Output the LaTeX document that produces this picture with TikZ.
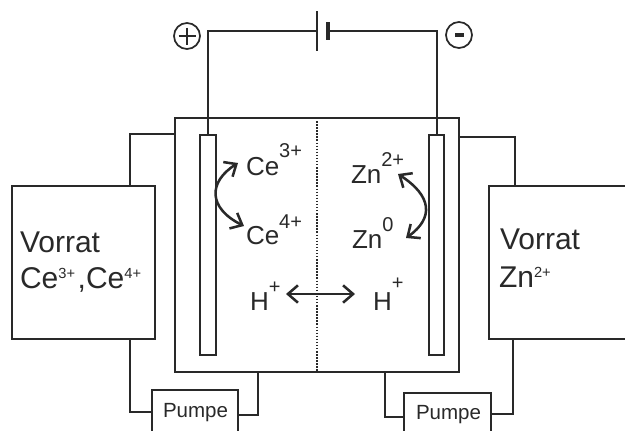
\documentclass[tikz,border=0pt]{standalone}
\usepackage{fontspec}
\setmainfont{Liberation Sans}
\usetikzlibrary{arrows.meta}
\definecolor{ink}{gray}{0.16}
\newcommand{\supr}[3]{\raisebox{#1}{\fontsize{#2}{#2}\selectfont #3}}
\tikzset{
  line/.style={draw=ink,line width=1.3pt},
  boxn/.style={draw=ink,line width=1.4pt,inner sep=0pt,outer sep=0pt,anchor=north west},
  lbl/.style={text=ink,font=\fontsize{19.5}{24}\selectfont,inner sep=0pt,outer sep=0pt,anchor=base west},
  vor/.style={text=ink,font=\fontsize{22.5}{27}\selectfont,inner sep=0pt,outer sep=0pt,anchor=base west},
  pmp/.style={text=ink,font=\fontsize{15.4}{18}\selectfont,inner sep=0pt,outer sep=0pt,anchor=base west},
  cur/.style={draw=ink,line width=1.9pt,{Straight Barb[length=7.5pt,width=13pt,line width=1.9pt]}-{Straight Barb[length=7.5pt,width=13pt,line width=1.9pt]}},
  sign/.style={draw=ink,line width=1.3pt,circle,minimum size=19.5pt,inner sep=0pt,outer sep=0pt},
}
\begin{document}
\begin{tikzpicture}[x=0.75pt,y=-0.75pt]
\useasboundingbox (0,0) rectangle (625,430);
\clip (0,0) rectangle (625,430);
% boxes
\node[boxn,minimum width=213pt,minimum height=190.5pt] (cell) at (175,118) {};
\node[boxn,minimum width=12pt,minimum height=165pt] (elL) at (200,135) {};
\node[boxn,minimum width=11.25pt,minimum height=165pt] (elR) at (429,135) {};
\node[boxn,minimum width=107.25pt,minimum height=114.75pt] (vl) at (12,186) {};
\node[boxn,minimum width=113.25pt,minimum height=114.75pt] (vr) at (489,186) {};
\node[boxn,minimum width=64.5pt,minimum height=45pt] (pl) at (152,390) {};
\node[boxn,minimum width=65.25pt,minimum height=45pt] (pr) at (404,393) {};
% ports
\coordinate (batL) at (317,31);
\coordinate (batR) at (328,31);
\coordinate (elLt) at (208,135);
\coordinate (elRt) at (437,135);
\coordinate (cellA) at (175,134);
\coordinate (vlA) at (130,186);
\coordinate (cellB) at (459,137);
\coordinate (vrB) at (515,186);
\coordinate (vlC) at (130,339);
\coordinate (plC) at (152,412);
\coordinate (plD) at (238,415);
\coordinate (cellD) at (258,372);
\coordinate (cellE) at (385,372);
\coordinate (prE) at (404,417);
\coordinate (prF) at (491,414);
\coordinate (vrF) at (513,339);
\coordinate (memT) at (317,118);
\coordinate (memB) at (317,372);
% wires and battery
\draw[line] (elLt) |- (batL);
\draw[line] (elRt) |- (batR);
\draw[line] (317,11) -- (317,51);
\draw[draw=ink,line width=3.6pt] (328,22) -- (328,40);
% pipes
\draw[line] (cellA) -| (vlA);
\draw[line] (cellB) -| (vrB);
\draw[line] (vlC) |- (plC);
\draw[line] (plD) -| (cellD);
\draw[line] (cellE) |- (prE);
\draw[line] (prF) -| (vrF);
% signs
\node[sign] (plus) at (187,36) {};
\draw[draw=ink,line width=2pt] (178.5,36) -- (195.5,36) (187,27.5) -- (187,44.5);
\node[sign] (minus) at (459,35) {};
\draw[draw=ink,line width=2.4pt] (455,35) -- (464,35);
% membrane
\draw[draw=ink,line width=1.5pt,dash pattern=on 1.1pt off 1.2pt] (memT) -- (memB);
% labels
\node[vor] (vlt1) at (20,252) {Vorrat};
\node[vor] (vlt2) at (20,288) {Ce\supr{7.5pt}{11}{3+}\kern2pt,Ce\supr{7.5pt}{11}{4+}};
\node[vor] (vrt1) at (500,249) {Vorrat};
\node[vor] (vrt2) at (499,287) {Zn\supr{7.5pt}{11}{2+}};
\node[lbl] (ce3) at (246,175) {Ce\supr{13.5pt}{15}{3+}};
\node[lbl] (ce4) at (246,244) {Ce\supr{12pt}{15}{4+}};
\node[lbl] (zn2) at (351,183) {Zn\supr{12.5pt}{15}{2+}};
\node[lbl] (zn0) at (352,248) {Zn\supr{12.5pt}{15}{0}};
\node[lbl] (hl) at (250,310) {H\supr{12.5pt}{15}{+}};
\node[lbl] (hr) at (373,310) {H\supr{15.5pt}{15}{+}};
\node[pmp] (pt1) at (163,417) {Pumpe};
\node[pmp] (pt2) at (416,419) {Pumpe};
% arrows
\coordinate (a1) at (238,163); \coordinate (a2) at (244,226);
\coordinate (b1) at (398,174); \coordinate (b2) at (406,238);
\coordinate (c1) at (286,294); \coordinate (c2) at (355,294);
\draw[cur] (a1) .. controls (208,182) and (208,208) .. (a2);
\draw[cur] (b1) .. controls (432,196) and (434,218) .. (b2);
\draw[cur] (c1) -- (c2);
\end{tikzpicture}
\end{document}
